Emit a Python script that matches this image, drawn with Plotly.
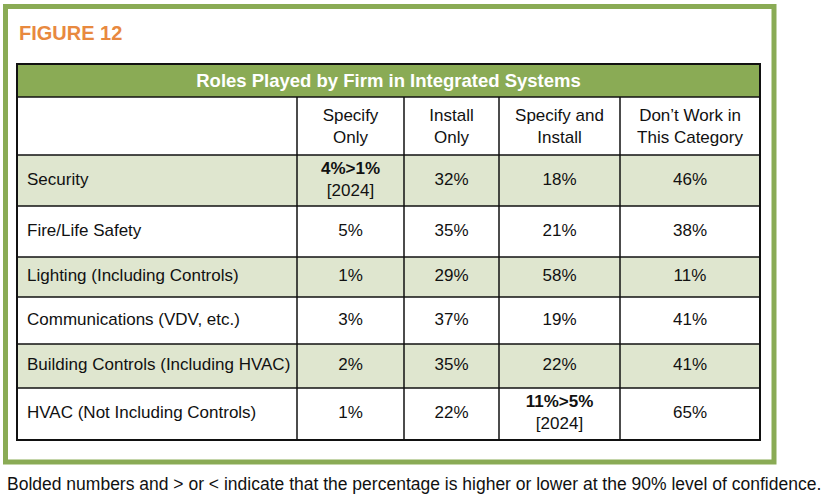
import plotly.graph_objects as go

# table content
title = "Roles Played by Firm in Integrated Systems"
columns = ["Specify<br>Only", "Install<br>Only", "Specify and<br>Install", "Don’t Work in<br>This Category"]
categories = [
    "Security",
    "Fire/Life Safety",
    "Lighting (Including Controls)",
    "Communications (VDV, etc.)",
    "Building Controls (Including HVAC)",
    "HVAC (Not Including Controls)",
]
specify_only = ["<b>4%>1%</b><br>[2024]", "5%", "1%", "3%", "2%", "1%"]
install_only = ["32%", "35%", "29%", "37%", "35%", "22%"]
specify_install = ["18%", "21%", "58%", "19%", "22%", "<b>11%>5%</b><br>[2024]"]
dont_work = ["46%", "38%", "11%", "41%", "41%", "65%"]
note = "Bolded numbers and &gt; or &lt; indicate that the percentage is higher or lower at the 90% level of confidence."

# layout (pixels, y grows downward)
W, H = 834, 500
col_edges = [17, 297, 404, 499, 620, 760]
title_top, header_top, body_top = 64, 97, 155
row_heights = [51, 51, 40, 47, 44, 52]

GREEN = "#8aab55"
LIGHT = "#dfe6cf"
FONT = "Liberation Sans, Arial, sans-serif"

row_edges = [body_top]
for h in row_heights:
    row_edges.append(row_edges[-1] + h)
row_mid = [(a + b) / 2 for a, b in zip(row_edges[:-1], row_edges[1:])]
col_mid = [(a + b) / 2 for a, b in zip(col_edges[:-1], col_edges[1:])]
left, right, bottom = col_edges[0], col_edges[-1], row_edges[-1]

fig = go.Figure()

shapes = []
# outer green frame
shapes.append(dict(type="rect", x0=5.5, y0=6.5, x1=774, y1=462,
                   line=dict(color=GREEN, width=5), fillcolor="white", layer="below"))
# shaded rows
for i in range(0, len(categories), 2):
    shapes.append(dict(type="rect", x0=left, x1=right, y0=row_edges[i], y1=row_edges[i + 1],
                       line=dict(width=0), fillcolor=LIGHT, layer="below"))
# title band
shapes.append(dict(type="rect", x0=left, x1=right, y0=title_top, y1=header_top,
                   line=dict(width=0), fillcolor=GREEN, layer="below"))
# grid
for y in [header_top, body_top] + row_edges[1:-1]:
    shapes.append(dict(type="line", x0=left, x1=right, y0=y, y1=y,
                       line=dict(color="#111", width=1.5)))
for x in col_edges[1:-1]:
    shapes.append(dict(type="line", x0=x, x1=x, y0=header_top, y1=bottom,
                       line=dict(color="#111", width=1.5)))
shapes.append(dict(type="rect", x0=left, x1=right, y0=title_top, y1=bottom,
                   line=dict(color="#111", width=2)))

txt = dict(family=FONT, size=17, color="#111")

fig.add_trace(go.Scatter(x=[(left + right) / 2], y=[(title_top + header_top) / 2 + 2], text=[f"<b>{title}</b>"],
                         mode="text", textfont=dict(family=FONT, size=18.5, color="white")))
fig.add_trace(go.Scatter(x=col_mid[1:], y=[(header_top + body_top) / 2 + 2] * len(columns), text=columns,
                         mode="text", textfont=txt))
fig.add_trace(go.Scatter(x=[left + 10] * len(categories), y=row_mid, text=categories,
                         mode="text", textposition="middle right", textfont=txt))
for j, vals in enumerate([specify_only, install_only, specify_install, dont_work]):
    fig.add_trace(go.Scatter(x=[col_mid[j + 1]] * len(vals), y=row_mid, text=vals,
                             mode="text", textfont=txt))

fig.update_traces(hoverinfo="skip", showlegend=False)

fig.add_annotation(x=17, y=33, xref="x", yref="y", text="<b>FIGURE 12</b>", showarrow=False,
                   xanchor="left", yanchor="middle", font=dict(family=FONT, size=20, color="#e8893f"))
fig.add_annotation(x=5, y=484, xref="x", yref="y", text=note, showarrow=False,
                   xanchor="left", yanchor="middle", font=dict(family=FONT, size=17.5, color="#111"))

fig.update_layout(
    width=W, height=H,
    margin=dict(l=0, r=0, t=0, b=0),
    paper_bgcolor="white", plot_bgcolor="white",
    shapes=shapes,
    xaxis=dict(range=[0, W], visible=False, fixedrange=True),
    yaxis=dict(range=[H, 0], visible=False, fixedrange=True),
)

# drop the page's default body margin so the figure sits at the window corner
fig.write_html("out.html", config={"displayModeBar": False},
               post_script="document.body.style.margin = '0';")
